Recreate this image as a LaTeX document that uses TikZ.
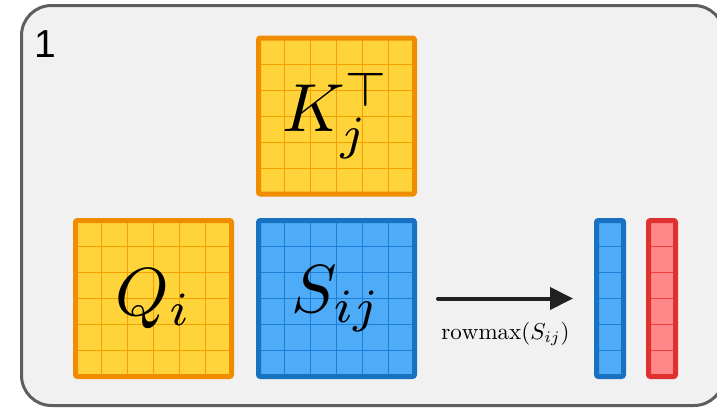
\documentclass[tikz,border=0pt]{standalone}
\usepackage{amsmath}
\usepackage{fontspec}
\usepackage{tikz}
\usetikzlibrary{arrows.meta,calc}
\newfontfamily\numfont{Liberation Sans}
\definecolor{panelbg}{HTML}{F1F1F1}
\definecolor{panelline}{HTML}{5E5E5E}
\definecolor{yelfill}{HTML}{FFD43B}
\definecolor{yelline}{HTML}{F08C00}
\definecolor{yelgrid}{HTML}{F59F00}
\definecolor{bluefill}{HTML}{4DABF7}
\definecolor{blueline}{HTML}{1971C2}
\definecolor{bluegrid}{HTML}{1C7ED6}
\definecolor{redfill}{HTML}{FF8787}
\definecolor{redline}{HTML}{E03131}
\definecolor{redgrid}{HTML}{F03E3E}

\begin{document}
\begin{tikzpicture}[x=1pt,y=-1pt,
  cells/.style={path picture={
    \foreach \k in {1,...,5}{
      \draw[#1,line width=0.9pt]
        ($(path picture bounding box.north west)!\k/6!(path picture bounding box.south west)$) --
        ($(path picture bounding box.north east)!\k/6!(path picture bounding box.south east)$);
      \draw[#1,line width=0.9pt]
        ($(path picture bounding box.north west)!\k/6!(path picture bounding box.north east)$) --
        ($(path picture bounding box.south west)!\k/6!(path picture bounding box.south east)$);}}},
  vcells/.style={path picture={
    \foreach \k in {1,...,5}
      \draw[#1,line width=0.9pt]
        ($(path picture bounding box.north west)!\k/6!(path picture bounding box.south west)$) --
        ($(path picture bounding box.north east)!\k/6!(path picture bounding box.south east)$);}},
  blk/.style={line width=5pt,rounded corners=2pt,inner sep=0pt,
    minimum width=156pt,minimum height=156pt},
  vec/.style={line width=5pt,rounded corners=2pt,inner sep=0pt,
    minimum width=27pt,minimum height=156pt}]
  \useasboundingbox (0,0) rectangle (717,407);
  \draw[panelline,fill=panelbg,line width=3pt,rounded corners=30pt] (21.5,5.5) rectangle (724,405.5);
  \node[font=\numfont\fontsize{39}{46}\selectfont] (num) at (45,44) {1};

  \node[blk,draw=yelline,fill=yelfill,cells=yelgrid] (Kj) at (336.5,116) {\scalebox{6.8}{$K_j^{\top}$}};
  \node[blk,draw=yelline,fill=yelfill,cells=yelgrid] (Qi) at (153.5,298.5) {\scalebox{6.8}{$Q_i$}};
  \node[blk,draw=blueline,fill=bluefill,cells=bluegrid] (Sij) at (336.5,298.5) {\scalebox{6.8}{$S_{ij}$}};

  \node[vec,draw=blueline,fill=bluefill,vcells=bluegrid] (mvec) at (610,298.5) {};
  \node[vec,draw=redline,fill=redfill,vcells=redgrid] (mold) at (662,298.5) {};

  \draw[line width=4pt,line cap=round,black!87,-{Triangle[length=23pt,width=22pt]}]
    ([xshift=21pt]Sij.east) -- ([xshift=-21pt]mvec.west)
    node[midway,below=18pt,text=black] (rmax) {\scalebox{2.3}{$\mathrm{rowmax}(S_{ij})$}};
\end{tikzpicture}
\end{document}
